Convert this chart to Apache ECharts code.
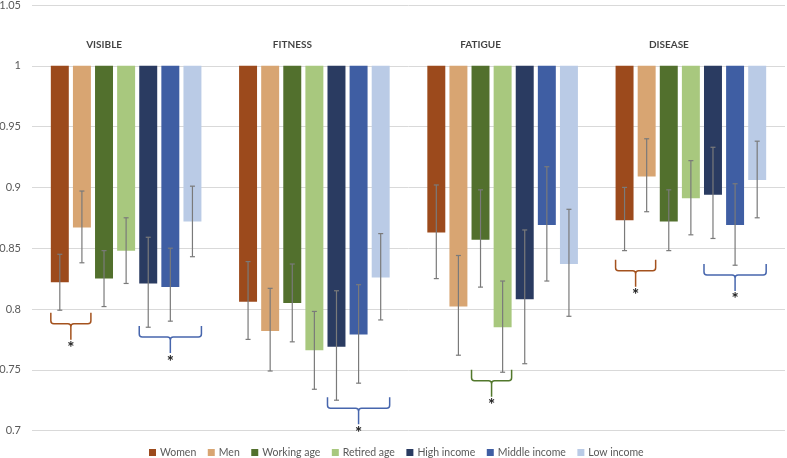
<!DOCTYPE html>
<html><head><meta charset="utf-8">
<script src="https://cdn.jsdelivr.net/npm/echarts@6/dist/echarts.min.js"></script>
<style>html,body{margin:0;padding:0;background:#fff}#c{width:787px;height:458px}</style>
</head><body><div id="c"></div>
<script>
const categories = ['VISIBLE', 'FITNESS', 'FATIGUE', 'DISEASE'];
const seriesNames = ['Women', 'Men', 'Working age', 'Retired age', 'High income', 'Middle income', 'Low income'];
const yTicks = [0.7, 0.75, 0.8, 0.85, 0.9, 0.95, 1, 1.05];

const women        = [0.822, 0.806, 0.863, 0.873];
const womenLow     = [0.799, 0.775, 0.825, 0.848];
const womenHigh    = [0.845, 0.839, 0.902, 0.900];
const men          = [0.867, 0.782, 0.802, 0.909];
const menLow       = [0.838, 0.749, 0.762, 0.880];
const menHigh      = [0.897, 0.817, 0.844, 0.940];
const workingAge   = [0.825, 0.805, 0.857, 0.872];
const workingLow   = [0.802, 0.773, 0.818, 0.848];
const workingHigh  = [0.848, 0.837, 0.898, 0.898];
const retiredAge   = [0.848, 0.766, 0.785, 0.891];
const retiredLow   = [0.821, 0.734, 0.748, 0.861];
const retiredHigh  = [0.875, 0.798, 0.823, 0.922];
const highIncome   = [0.821, 0.769, 0.808, 0.894];
const highLow      = [0.785, 0.725, 0.755, 0.858];
const highHigh     = [0.859, 0.815, 0.865, 0.933];
const middleIncome = [0.818, 0.779, 0.869, 0.869];
const middleLow    = [0.790, 0.739, 0.823, 0.836];
const middleHigh   = [0.850, 0.820, 0.917, 0.903];
const lowIncome    = [0.872, 0.826, 0.837, 0.906];
const lowLow       = [0.843, 0.791, 0.794, 0.875];
const lowHigh      = [0.901, 0.862, 0.882, 0.938];

// significance braces: category index, first and last series index, top level of brace
const braceCat   = [0, 0, 1, 2, 3, 3];
const braceFrom  = [0, 4, 4, 2, 0, 4];
const braceTo    = [1, 6, 6, 3, 1, 6];
const braceLevel = [0.797, 0.786, 0.7275, 0.750, 0.8405, 0.837];

const baseline = 1;
const values = [women, men, workingAge, retiredAge, highIncome, middleIncome, lowIncome];
const lows = [womenLow, menLow, workingLow, retiredLow, highLow, middleLow, lowLow];
const highs = [womenHigh, menHigh, workingHigh, retiredHigh, highHigh, middleHigh, lowHigh];
const colors = ['#9C4A1C', '#D8A572', '#52702D', '#A8C87E', '#2A3B61', '#3F5EA3', '#BACBE6'];
const braceColorOf = i => (i <= 1 ? '#A4521E' : (i <= 3 ? '#52782C' : '#4766AD'));

const BAR_GAP = 0.23, CAT_GAP = 0.2, N = seriesNames.length;
const FONT = 'Lato, "Liberation Sans", sans-serif';

function barGeom(api, catIdx, sIdx) {
  const band = api.size([1, 0])[0];
  const w = band * (1 - CAT_GAP) / (N + (N - 1) * BAR_GAP);
  const step = w * (1 + BAR_GAP);
  const cx = api.coord([catIdx, baseline])[0] + (sIdx - (N - 1) / 2) * step;
  return { cx, w };
}

const series = [];
values.forEach((vals, i) => {
  series.push({
    name: '_base' + i, type: 'bar', stack: 'g' + i, silent: true,
    barGap: (BAR_GAP * 100) + '%', barCategoryGap: (CAT_GAP * 100) + '%',
    itemStyle: { color: 'rgba(0,0,0,0)' }, data: vals.slice(), z: 1
  });
  series.push({
    name: seriesNames[i], type: 'bar', stack: 'g' + i,
    barGap: (BAR_GAP * 100) + '%', barCategoryGap: (CAT_GAP * 100) + '%',
    itemStyle: { color: colors[i] }, data: vals.map(v => baseline - v), z: 2
  });
});

// error bars
const errData = [];
values.forEach((vals, i) => vals.forEach((v, c) => errData.push([c, lows[i][c], highs[i][c], i])));
series.push({
  type: 'custom', name: '_err', silent: true, z: 5, data: errData,
  renderItem: function (params, api) {
    const c = api.value(0), lo = api.value(1), hi = api.value(2), s = api.value(3);
    const g = barGeom(api, c, s);
    const yl = api.coord([c, lo])[1], yh = api.coord([c, hi])[1];
    const st = { stroke: '#7A7A7A', lineWidth: 1.2 };
    const cap = 2.5;
    return { type: 'group', children: [
      { type: 'line', shape: { x1: g.cx, y1: yl, x2: g.cx, y2: yh }, style: st },
      { type: 'line', shape: { x1: g.cx - cap, y1: yl, x2: g.cx + cap, y2: yl }, style: st },
      { type: 'line', shape: { x1: g.cx - cap, y1: yh, x2: g.cx + cap, y2: yh }, style: st }
    ]};
  }
});

// braces with asterisks
const braceData = braceCat.map((c, k) => [c, braceFrom[k], braceTo[k], braceLevel[k]]);
series.push({
  type: 'custom', name: '_brace', silent: true, z: 6, data: braceData,
  renderItem: function (params, api) {
    const c = api.value(0), f = api.value(1), t = api.value(2), lvl = api.value(3);
    const gf = barGeom(api, c, f), gt = barGeom(api, c, t);
    const x0 = gf.cx - gf.w / 2, x1 = gt.cx + gt.w / 2, xm = (x0 + x1) / 2;
    const y0 = api.coord([c, lvl])[1], yh = y0 + 11, yt = yh + 16, r = 3;
    const d = `M${x0},${y0} L${x0},${yh - r} Q${x0},${yh} ${x0 + r},${yh} L${xm - r},${yh} Q${xm},${yh} ${xm},${yh + r} L${xm},${yt}` +
              ` M${x1},${y0} L${x1},${yh - r} Q${x1},${yh} ${x1 - r},${yh} L${xm + r},${yh} Q${xm},${yh} ${xm},${yh + r}`;
    const col = braceColorOf(f);
    return { type: 'group', children: [
      { type: 'path', shape: { pathData: d }, style: { stroke: col, lineWidth: 1.5, fill: null } },
      { type: 'text', style: { text: '*', x: xm, y: yt + 9, align: 'center', verticalAlign: 'middle',
        font: 'bold 17px ' + FONT, fill: '#222' } }
    ]};
  }
});

// category titles
series.push({
  type: 'scatter', name: '_titles', silent: true, symbolSize: 1, z: 7,
  itemStyle: { color: 'rgba(0,0,0,0)' },
  data: categories.map((n, c) => [c, 1.0175]),
  label: { show: true, position: 'inside', offset: [-22, 0], formatter: p => categories[p.data[0]],
    fontFamily: FONT, fontWeight: 'bold', fontSize: 10, color: '#111' }
});

const chart = echarts.init(document.getElementById('c'), null, { renderer: 'canvas' });
chart.setOption({
  animation: false,
  textStyle: { fontFamily: FONT },
  grid: { left: 32, right: 2, top: 5, bottom: 27.4, outerBoundsMode: 'none' },
  legend: {
    data: seriesNames, left: 144, top: 442, icon: 'rect', itemWidth: 7, itemHeight: 7, itemGap: 11.5,
    textStyle: { fontSize: 10.5, color: '#595959', fontFamily: FONT, padding: [0, 0, 0, -1] }
  },
  xAxis: {
    type: 'category', data: categories,
    axisLine: { show: false }, axisTick: { show: false }, axisLabel: { show: false }
  },
  yAxis: {
    type: 'value', min: yTicks[0], max: yTicks[yTicks.length - 1], interval: 0.05,
    axisLine: { show: false }, axisTick: { show: false },
    axisLabel: { fontSize: 11, color: '#595959', margin: 11, formatter: v => String(+v.toFixed(2)) },
    splitLine: { lineStyle: { color: '#D9D9D9', width: 1 } }
  },
  series: series
});
</script></body></html>
